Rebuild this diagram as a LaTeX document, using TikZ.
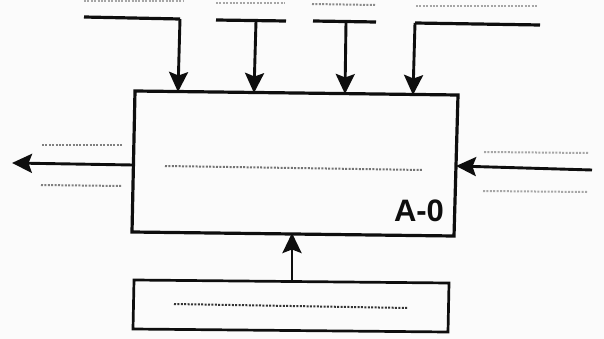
\documentclass[tikz,border=0pt]{standalone}
\usepackage{fontspec}
\setmainfont{Liberation Sans}
\usetikzlibrary{arrows.meta}
\definecolor{paper}{HTML}{FBFBFB}
\definecolor{ink}{HTML}{0E0E0E}
\tikzset{
  x=1pt,y=-1pt,
  boxline/.style={draw=ink,line width=3.2pt,line join=miter},
  feed/.style={draw=ink,line width=3.2pt,line join=miter},
  flow/.style={draw=ink,line width=2.9pt,-{Stealth[length=20pt,width=19pt,inset=3.5pt]},shorten >=-1pt},
  dots/.style={draw=#1,line width=2pt,dash pattern=on 2pt off 1.4pt},
  dots/.default={black!65},
}
\begin{document}
\begin{tikzpicture}
\useasboundingbox[fill=paper] (0,0) rectangle (604,339);
% main box corners
\coordinate (mTL) at (135,91);
\coordinate (mTR) at (458,95);
\coordinate (mBR) at (454,236);
\coordinate (mBL) at (132,232);
\draw[boxline] (mTL) -- (mTR) -- (mBR) -- (mBL) -- cycle;
% lower box corners
\coordinate (lTL) at (134,280);
\coordinate (lTR) at (449,283);
\coordinate (lBR) at (448,332);
\coordinate (lBL) at (133,329);
\draw[boxline,line width=2.7pt] (lTL) -- (lTR) -- (lBR) -- (lBL) -- cycle;
\node[font=\bfseries\fontsize{31}{31}\selectfont,text=ink,inner sep=0pt,anchor=center] (tag) at (419,211) {A-0};
% top feeds
\coordinate (a0) at (84,17);
\coordinate (a1) at (180,19);
\coordinate (a2) at (178,91);
\draw[feed] (a0) -- (a1);
\draw[flow] (a1) -- (a2);
\coordinate (b0) at (216,20);
\coordinate (b1) at (286,21);
\coordinate (b2) at (256,21);
\coordinate (b3) at (254,92);
\draw[feed] (b0) -- (b1);
\draw[flow] (b2) -- (b3);
\coordinate (c0) at (313,21);
\coordinate (c1) at (376,22);
\coordinate (c2) at (346,22);
\coordinate (c3) at (345,93);
\draw[feed] (c0) -- (c1);
\draw[flow] (c2) -- (c3);
\coordinate (d0) at (540,25);
\coordinate (d1) at (415,23);
\coordinate (d2) at (413,94);
\draw[feed] (d0) -- (d1);
\draw[flow] (d1) -- (d2);
% side and bottom arrows
\coordinate (e0) at (133,165);
\coordinate (e1) at (13,163);
\draw[flow] (e0) -- (e1);
\coordinate (f0) at (592,170);
\coordinate (f1) at (457,166);
\draw[flow] (f0) -- (f1);
\coordinate (g0) at (292,282);
\coordinate (g1) at (292,234);
\draw[flow] (g0) -- (g1);
% illegible text rendered as dots
\draw[dots=black!35] (84,1) -- (183,1);
\draw[dots=black!35] (216,3) -- (285,3);
\draw[dots=black!45] (312,4) -- (375,5);
\draw[dots=black!35] (416,6) -- (538,6);
\draw[dots=black!50] (42,145) -- (122,145);
\draw[dots=black!50] (41,185) -- (122,186);
\draw[dots=black!55] (165,166) -- (423,170);
\draw[dots=black!35] (484,152) -- (588,153);
\draw[dots=black!35] (483,191) -- (587,192);
\draw[dots=black!80] (174,304) -- (408,308);
\end{tikzpicture}
\end{document}
